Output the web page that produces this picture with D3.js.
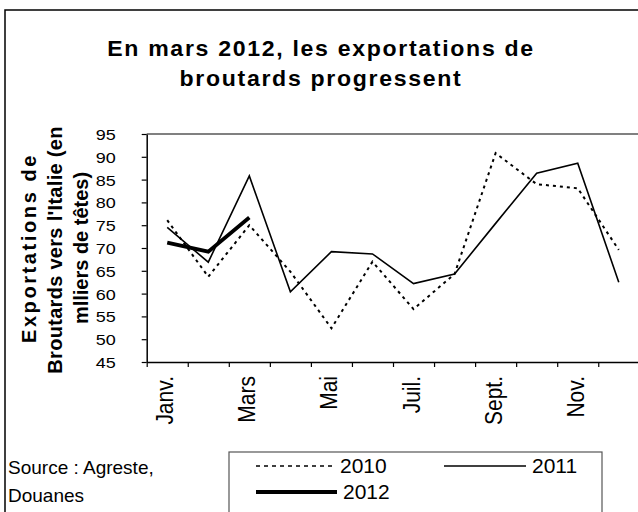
<!DOCTYPE html>
<html>
<head>
<meta charset="utf-8">
<script src="https://cdn.jsdelivr.net/npm/d3@7"></script>
<style>
  body { margin: 0; background: #fff; }
  svg { display: block; font-family: "Liberation Sans", Arial, sans-serif; }
</style>
</head>
<body>
<svg id="chart" width="638" height="512"></svg>
<script>
// chart data
const months = ["Janv.", "Févr.", "Mars", "Avr.", "Mai", "Juin", "Juil.", "Août", "Sept.", "Oct.", "Nov.", "Déc."];
const shownMonths = ["Janv.", "Mars", "Mai", "Juil.", "Sept.", "Nov."];
const values2010 = [76.1, 63.7, 75.0, 64.8, 52.4, 67.0, 56.6, 64.3, 90.8, 84.0, 83.1, 69.6];
const values2011 = [74.5, 66.9, 85.8, 60.4, 69.2, 68.7, 62.2, 64.3, 75.4, 86.4, 88.6, 62.5];
const values2012 = [71.2, 69.2, 76.7];
const yTicks = [45, 50, 55, 60, 65, 70, 75, 80, 85, 90, 95];
const titleLines = ["En mars 2012, les exportations de", "broutards progressent"];
const yLabelLines = ["Exportations de", "Broutards vers l'Italie (en", "mlliers de têtes)"];
const sourceLines = ["Source : Agreste,", "Douanes"];

const series = [
  {name: "2010", values: values2010, width: 2, dash: "3,4"},
  {name: "2011", values: values2011, width: 1.6, dash: null},
  {name: "2012", values: values2012, width: 3.8, dash: null}
];

const svg = d3.select("#chart");
const plotL = 146.7, plotR = 639.3, plotT = 134, plotB = 362;

// outer frame
svg.append("rect")
  .attr("x", 5).attr("y", 10).attr("width", 660).attr("height", 540)
  .attr("fill", "none").attr("stroke", "#000").attr("stroke-width", 1.5);

// title
titleLines.forEach((t, i) => {
  svg.append("text")
    .attr("transform", `translate(321,${56 + i * 30}) scale(1.05,1)`)
    .attr("text-anchor", "middle")
    .attr("font-size", 22).attr("font-weight", "bold")
    .attr("letter-spacing", 1.6)
    .text(t);
});

const x = d3.scaleBand().domain(months).range([plotL, plotR]);
const xi = d3.scaleLinear().domain([0, months.length]).range([plotL, plotR]);
const y = d3.scaleLinear().domain([45, 95]).range([plotB, plotT]);

// plot area top border
svg.append("line")
  .attr("x1", plotL).attr("x2", plotR).attr("y1", plotT).attr("y2", plotT)
  .attr("stroke", "#808080").attr("stroke-width", 2);

// y axis
const yAxis = svg.append("g")
  .attr("transform", `translate(${plotL},0)`)
  .call(d3.axisLeft(y).tickValues(yTicks).tickSize(5).tickSizeOuter(0));
yAxis.select(".domain").attr("stroke", "#000").attr("stroke-width", 1.5);
yAxis.selectAll(".tick line").attr("stroke-width", 1.2);
yAxis.selectAll(".tick text")
  .attr("x", null).attr("dy", null)
  .attr("transform", "translate(-31,5.5) scale(1.2,1)")
  .attr("font-size", 15).attr("font-family", "Liberation Sans, Arial, sans-serif")
  .attr("fill", "#000");

// x axis (ticks between months)
const xAxis = svg.append("g")
  .attr("transform", `translate(0,${plotB})`)
  .call(d3.axisBottom(xi).tickValues(d3.range(0, months.length + 1)).tickSize(5).tickSizeOuter(0).tickFormat(""));
xAxis.select(".domain").attr("stroke", "#000").attr("stroke-width", 1.5);
xAxis.selectAll(".tick line").attr("stroke-width", 1.2);

// month labels
svg.append("g").selectAll("text")
  .data(shownMonths)
  .join("text")
  .attr("transform", d => `translate(${x(d) + x.bandwidth() / 2 + 6},376) scale(1.1,1) rotate(-90)`)
  .attr("text-anchor", "end")
  .attr("font-size", 21)
  .text(d => d);

// y label
const yLabelSpacing = [2.6, 0.3, 0];
yLabelLines.forEach((t, i) => {
  svg.append("text")
    .attr("transform", `translate(${36 + i * 26},${248 + (i === 1 ? 2 : 0)}) scale(1.05,1) rotate(-90)`)
    .attr("text-anchor", "middle")
    .attr("font-size", 20).attr("font-weight", "bold")
    .attr("letter-spacing", yLabelSpacing[i])
    .text(t);
});

// lines
const line = d3.line()
  .x((d, i) => x(months[i]) + x.bandwidth() / 2)
  .y(d => y(d));

svg.append("g").selectAll("path")
  .data(series)
  .join("path")
  .attr("d", d => line(d.values))
  .attr("fill", "none")
  .attr("stroke", "#000")
  .attr("stroke-width", d => d.width)
  .attr("stroke-dasharray", d => d.dash)
  .attr("stroke-linejoin", "miter");

// source
sourceLines.forEach((t, i) => {
  svg.append("text")
    .attr("x", 8).attr("y", 474 + i * 28)
    .attr("font-size", 19)
    .text(t);
});

// legend
const legend = svg.append("g");
legend.append("rect")
  .attr("x", 229).attr("y", 452).attr("width", 373).attr("height", 80)
  .attr("fill", "none").attr("stroke", "#555").attr("stroke-width", 1.2);

const legendPos = [
  {x1: 256, x2: 334, y: 466},
  {x1: 444, x2: 526, y: 466},
  {x1: 256, x2: 337, y: 492}
];
series.forEach((s, i) => {
  const p = legendPos[i];
  legend.append("line")
    .attr("x1", p.x1).attr("x2", p.x2).attr("y1", p.y).attr("y2", p.y)
    .attr("stroke", "#000")
    .attr("stroke-width", s.name === "2010" ? 1.5 : s.width)
    .attr("stroke-dasharray", s.dash ? "4,4" : null);
  legend.append("text")
    .attr("transform", `translate(${p.x2 + 6},${p.y + 7}) scale(1.05,1)`)
    .attr("font-size", 20)
    .text(s.name);
});
</script>
</body>
</html>
